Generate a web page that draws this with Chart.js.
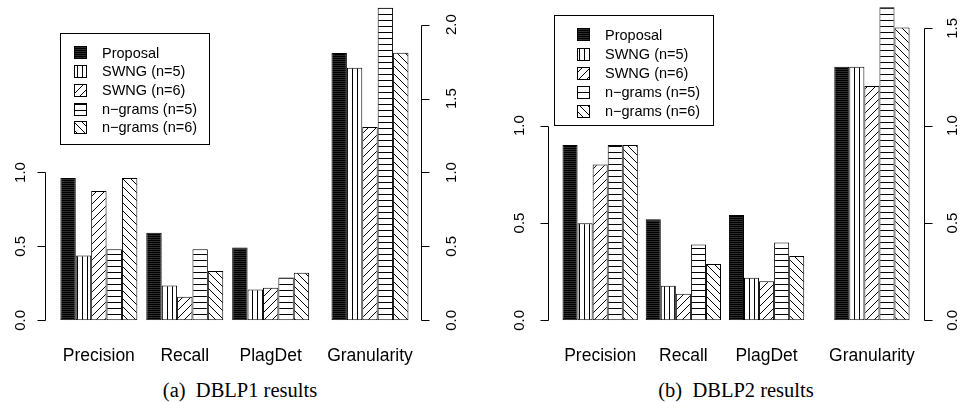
<!DOCTYPE html>
<html>
<head>
<meta charset="utf-8">
<script src="https://cdn.jsdelivr.net/npm/chart.js@4.4.1/dist/chart.umd.min.js"></script>
<style>
  html, body { margin: 0; padding: 0; background: #fff; }
  #wrap { position: relative; width: 964px; height: 402px; overflow: hidden; }
  #wrap canvas { position: absolute; top: 0; }
  .cap { position: absolute; top: 380px; width: 480px; text-align: center; white-space: pre;
         font: 20.5px "Liberation Serif", "Times New Roman", serif; line-height: 1; color: #000; }
</style>
</head>
<body>
<div id="wrap">
  <canvas id="dblp1" width="482" height="370" style="left:0"></canvas>
  <canvas id="dblp2" width="482" height="370" style="left:482px"></canvas>
  <div class="cap" style="left:0">(a)  DBLP1 results</div>
  <div class="cap" style="left:496px">(b)  DBLP2 results</div>
</div>
<script>
// categories and series
const categories = ['Precision', 'Recall', 'PlagDet', 'Granularity'];
const seriesNames = ['Proposal', 'SWNG (n=5)', 'SWNG (n=6)', 'n\u2212grams (n=5)', 'n\u2212grams (n=6)'];

// DBLP1 values
const d1Proposal = [0.963, 0.592, 0.493, 1.808];
const d1Swng5    = [0.439, 0.236, 0.209, 1.709];
const d1Swng6    = [0.874, 0.159, 0.220, 1.308];
const d1Ngram5   = [0.480, 0.480, 0.290, 2.115];
const d1Ngram6   = [0.963, 0.333, 0.322, 1.811];

// DBLP2 values
const d2Proposal = [0.900, 0.519, 0.541, 1.303];
const d2Swng5    = [0.498, 0.178, 0.219, 1.303];
const d2Swng6    = [0.800, 0.137, 0.200, 1.204];
const d2Ngram5   = [0.900, 0.390, 0.400, 1.608];
const d2Ngram6   = [0.900, 0.289, 0.330, 1.504];

// tick labels
const leftTicks = [0, 0.5, 1.0];
const d1RightTicks = [0, 0.5, 1.0, 1.5, 2.0];
const d2RightTicks = [0, 0.5, 1.0, 1.5];

const SANS = '"Liberation Sans", Arial, Helvetica, sans-serif';

// R style hatching
function hatch(kind) {
    const c = document.createElement('canvas');
    const g = c.getContext('2d');
    const s = { solid: 2, vert: 5, horz: 6, fwd: 8, back: 8 }[kind];
    c.width = c.height = s;
    g.fillStyle = kind === 'solid' ? '#000' : '#fff';
    g.fillRect(0, 0, s, s);
    g.fillStyle = '#000';
    g.strokeStyle = '#000';
    g.lineWidth = 1;
    if (kind === 'solid') {
        g.fillStyle = '#2b2b2b';
        g.fillRect(0, 1, s, 1);
    } else if (kind === 'vert') {
        g.fillRect(2, 0, 1, s);
    } else if (kind === 'horz') {
        g.fillRect(0, 2, s, 1);
    } else {
        g.beginPath();
        if (kind === 'fwd') {
            g.moveTo(-1, s + 1); g.lineTo(s + 1, -1);
            g.moveTo(-1, 1); g.lineTo(1, -1);
            g.moveTo(s - 1, s + 1); g.lineTo(s + 1, s - 1);
        } else {
            g.moveTo(-1, -1); g.lineTo(s + 1, s + 1);
            g.moveTo(-1, s - 1); g.lineTo(1, s + 1);
            g.moveTo(s - 1, -1); g.lineTo(s + 1, 1);
        }
        g.stroke();
    }
    return g.createPattern(c, 'repeat');
}

const fills = ['solid', 'vert', 'fwd', 'horz', 'back'].map(hatch);

function rAxesPlugin(cfg, xPos) {
    return {
        id: 'rAxes',
        afterDraw(chart) {
            const { ctx, chartArea: a, scales: { x, y } } = chart;
            ctx.save();
            ctx.strokeStyle = '#000';
            ctx.fillStyle = '#000';
            ctx.lineWidth = 1;

            // axis lines + ticks (only across the tick range, like R)
            const sides = [
                { ticks: leftTicks, px: a.left + 0.5, dir: -1, labelX: a.left - cfg.leftLabel },
                { ticks: cfg.rightTicks, px: a.right + 0.5, dir: 1, labelX: a.right + cfg.rightLabel }
            ];
            ctx.font = '15px ' + SANS;
            ctx.textAlign = 'center';
            ctx.textBaseline = 'alphabetic';
            sides.forEach(sd => {
                const top = y.getPixelForValue(sd.ticks[sd.ticks.length - 1]);
                const bot = y.getPixelForValue(sd.ticks[0]);
                ctx.beginPath();
                ctx.moveTo(sd.px, Math.round(bot) + 0.5);
                ctx.lineTo(sd.px, Math.round(top) + 0.5);
                sd.ticks.forEach(v => {
                    const py = Math.round(y.getPixelForValue(v)) + 0.5;
                    ctx.moveTo(sd.px, py);
                    ctx.lineTo(sd.px + sd.dir * 8, py);
                });
                ctx.stroke();
                sd.ticks.forEach(v => {
                    ctx.save();
                    ctx.translate(sd.labelX, y.getPixelForValue(v));
                    ctx.rotate(-Math.PI / 2);
                    ctx.fillText(v.toFixed(1), 0, 0);
                    ctx.restore();
                });
            });

            // group labels
            ctx.font = '17.5px ' + SANS;
            categories.forEach((c, i) => {
                ctx.fillText(c, x.getPixelForValue(xPos[i]), a.bottom + 40.4);
            });

            // legend box
            const L = cfg.legend;
            ctx.fillStyle = '#fff';
            ctx.fillRect(L.x, L.y, L.w, L.h);
            ctx.strokeRect(L.x + 0.5, L.y + 0.5, L.w, L.h);
            ctx.font = '14.5px ' + SANS;
            ctx.textAlign = 'left';
            seriesNames.forEach((name, k) => {
                const cy = L.y + 19.4 + k * L.row;
                ctx.fillStyle = fills[k];
                ctx.fillRect(L.x + L.sw, Math.round(cy - 6), 13, 13);
                ctx.strokeRect(L.x + L.sw + 0.5, Math.round(cy - 6) + 0.5, 12, 12);
                ctx.fillStyle = '#000';
                ctx.fillText(name, L.x + L.sw + 28, cy + 5.2);
            });
            ctx.restore();
        }
    };
}

function makeChart(id, values, cfg) {
    const last = categories.length - 1;
    const xPos = categories.map((c, i) => i + (i === last ? cfg.granGap : 0));
    return new Chart(document.getElementById(id), {
        type: 'bar',
        data: {
            datasets: values.map((vals, k) => ({
                label: seriesNames[k],
                data: vals.map((v, i) => ({ x: xPos[i], y: v })),
                backgroundColor: fills[k],
                borderColor: '#000',
                borderWidth: 1,
                borderSkipped: false,
                categoryPercentage: cfg.groupWidth,
                barPercentage: 1
            }))
        },
        options: {
            responsive: false,
            animation: false,
            layout: { padding: cfg.pad },
            scales: {
                x: {
                    type: 'linear', display: false, offset: false,
                    min: cfg.xMin, max: cfg.xMax,
                    afterBuildTicks: s => { s.ticks = xPos.map(v => ({ value: v })); }
                },
                y: { display: false, min: 0, max: cfg.yMax }
            },
            plugins: { legend: { display: false }, tooltip: { enabled: false } }
        },
        plugins: [rAxesPlugin(cfg, xPos)]
    });
}

makeChart('dblp1', [d1Proposal, d1Swng5, d1Swng6, d1Ngram5, d1Ngram6], {
    pad: { left: 45, right: 61, top: 4, bottom: 49.7 },
    xMin: -0.627, xMax: 3.75, yMax: 2.14,
    granGap: 0.156, groupWidth: 0.896,
    rightTicks: d1RightTicks, leftLabel: 20, rightLabel: 35,
    legend: { x: 60, y: 33, w: 149, h: 111, sw: 14, row: 18.7 }
});

makeChart('dblp2', [d2Proposal, d2Swng5, d2Swng6, d2Ngram5, d2Ngram6], {
    pad: { left: 66, right: 40, top: 4, bottom: 49.7 },
    xMin: -0.627, xMax: 3.892, yMax: 1.625,
    granGap: 0.266, groupWidth: 0.905,
    rightTicks: d2RightTicks, leftLabel: 24, rightLabel: 33,
    legend: { x: 72, y: 15, w: 159, h: 110, sw: 23, row: 19.2 }
});
</script>
</body>
</html>
